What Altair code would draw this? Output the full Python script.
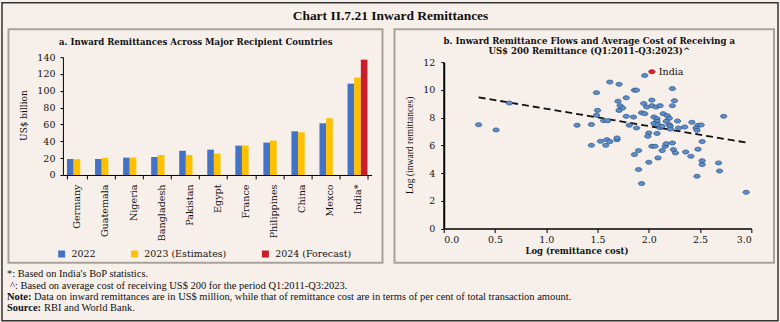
import altair as alt
import pandas as pd

# ---------------- data ----------------
countries = ["Germany", "Guatemala", "Nigeria", "Bangladesh", "Pakistan", "Egypt",
             "France", "Philippines", "China", "Mexco", "India*"]
series_names = ["2022", "2023 (Estimates)", "2024 (Forecast)"]
vals_2022 = [19.0, 19.0, 20.6, 21.4, 28.9, 30.1, 34.9, 38.5, 51.9, 61.4, 108.5]
vals_2023 = [18.8, 20.2, 20.6, 23.8, 23.7, 25.4, 34.9, 40.8, 50.7, 67.4, 115.8]
vals_2024 = {"India*": 137.0}
series_colors = ["#4472C4", "#FFC000", "#C81E2A"]

cost = [0.34, 0.51, 0.64, 1.30, 1.44, 1.49, 1.50, 1.49, 1.44, 1.53, 1.59, 1.58, 1.62,
        1.69, 1.69, 1.56, 1.60, 1.62, 1.71, 1.70, 1.72, 1.745, 1.71, 1.78, 1.78, 1.85,
        1.86, 1.88, 1.81, 1.88, 1.93, 1.96, 1.95, 1.96, 1.98, 2.03, 2.03, 2.07, 2.11,
        2.05, 2.08, 2.14, 2.18, 2.20, 2.08, 2.17, 2.23, 2.25, 2.23, 2.28, 2.42, 2.73,
        2.05, 2.09, 2.11, 2.13, 2.20, 2.21, 2.29, 2.35, 2.48, 2.51, 2.46, 2.47, 2.00,
        1.99, 2.08, 2.52, 1.86, 1.90, 1.90, 1.93, 2.00, 2.03, 2.06, 2.09, 2.13, 2.16,
        2.17, 2.23, 2.24, 2.26, 2.36, 2.41, 2.48, 2.52, 2.52, 2.47, 2.68, 2.69, 2.95,
        2.21]
flows = [7.49, 7.11, 9.05, 7.45, 7.50, 9.80, 8.52, 8.17, 6.00, 6.29, 6.41, 6.00, 6.27,
         6.41, 6.53, 7.78, 7.78, 10.56, 10.40, 9.18, 8.86, 8.69, 8.52, 9.43, 8.09, 8.04,
         9.98, 9.98, 7.45, 7.25, 8.35, 8.28, 9.02, 11.04, 8.76, 9.26, 8.86, 8.76, 8.86,
         8.04, 7.92, 8.28, 8.14, 7.95, 7.73, 7.73, 10.09, 9.22, 8.86, 7.75, 7.66, 8.09,
         7.58, 7.49, 7.27, 7.37, 7.49, 7.37, 7.25, 7.32, 7.44, 7.47, 7.25, 7.08, 6.89,
         6.65, 6.86, 6.27, 5.33, 5.62, 4.25, 3.24, 4.78, 5.93, 5.93, 5.09, 5.62, 5.93,
         6.12, 6.17, 5.69, 5.45, 5.52, 5.21, 5.72, 4.89, 4.61, 3.77, 4.73, 4.15, 2.61,
         7.17]
india_cost = [2.03]
india_flow = [11.31]
trend_x = [0.34, 2.95]
trend_y = [9.46, 6.20]

# ---------------- tables ----------------
rows = []
for c, a, b in zip(countries, vals_2022, vals_2023):
    rows.append({"country": c, "series": series_names[0], "value": a})
    rows.append({"country": c, "series": series_names[1], "value": b})
for c, v in vals_2024.items():
    rows.append({"country": c, "series": series_names[2], "value": v})
bar_df = pd.DataFrame(rows)
sc_df = pd.DataFrame({"x": cost, "y": flows})
india_df = pd.DataFrame({"x": india_cost, "y": india_flow, "t": ["India"]})
trend_df = pd.DataFrame({"x": trend_x, "y": trend_y})

SERIF = "DejaVu Serif"
TIMES = "Liberation Serif"
INK = "#111111"
BORDER = "#A8A29C"
FN = 10.5  # footnote size


def txt(s, x, y, size, bold=False, font=SERIF, align="center", angle=0, color=INK):
    kw = dict(fontSize=size, font=font, align=align, baseline="middle", color=color)
    if bold:
        kw["fontWeight"] = "bold"
    if angle:
        kw["angle"] = angle
    return alt.Chart(pd.DataFrame({"t": [s]})).mark_text(**kw).encode(
        x=alt.value(x), y=alt.value(y), text="t:N")


def frame(x1, x2, y1, y2, color, w):
    return alt.Chart(pd.DataFrame({"a": [0]})).mark_rect(
        fill="#ffffff", fillOpacity=0, stroke=color, strokeWidth=w).encode(
        x=alt.value(x1), x2=alt.value(x2), y=alt.value(y1), y2=alt.value(y2))


# ---------------- left panel ----------------
LW, LH = 309, 118
bars = alt.Chart(bar_df).mark_bar().encode(
    x=alt.X("country:N", sort=countries, title=None,
            scale=alt.Scale(paddingInner=0.29, paddingOuter=0.145),
            axis=alt.Axis(labelAngle=-90, tickBand="extent", tickSize=4, labelPadding=5,
                          labelFontSize=9.6, grid=False, domainColor="#000", tickColor="#000")),
    xOffset=alt.XOffset("series:N", sort=series_names,
                        scale=alt.Scale(domain=series_names, paddingInner=0, paddingOuter=0)),
    y=alt.Y("value:Q", title=None, scale=alt.Scale(domain=[0, 140], nice=False),
            axis=alt.Axis(values=list(range(0, 141, 20)), tickSize=3, labelPadding=5,
                          labelFontSize=9.5, grid=False, domainColor="#000", tickColor="#000")),
    color=alt.Color("series:N", sort=series_names,
                    scale=alt.Scale(domain=series_names, range=series_colors),
                    legend=alt.Legend(orient="none", legendX=-6, legendY=192,
                                      direction="horizontal", title=None, symbolType="square",
                                      symbolSize=49, symbolStrokeWidth=0, labelFontSize=9.5,
                                      labelFont=SERIF, labelColor=INK, labelOffset=5,
                                      columnPadding=34, padding=0)),
)

left = alt.layer(
    frame(-61, 716, -54.5, 264, "#333333", 1.5),
    frame(-54.5, 320, -28, 206, BORDER, 2),
    bars,
    txt("Chart II.7.21 Inward Remittances", 328, -40.7, 13.5, bold=True, font=TIMES),
    txt("a. Inward Remittances Across Major Recipient Countries", 133, -15, 8.6, bold=True),
    txt("US$ billion", -39.3, 58.5, 9, angle=270),
    txt("*: Based on India's BoP statistics.", -56, 217.5, FN, font=TIMES, align="left"),
    txt("^: Based on average cost of receiving US$ 200 for the period Q1:2011-Q3:2023.",
        -53, 228.7, FN, font=TIMES, align="left"),
    txt("Note:", -56, 239.9, FN, bold=True, font=TIMES, align="left"),
    txt("Data on inward remittances are in US$ million, while that of remittance cost are "
        "in terms of per cent of total transaction amount.", -29, 239.9, FN, font=TIMES,
        align="left"),
    txt("Source:", -56, 251.1, FN, bold=True, font=TIMES, align="left"),
    txt("RBI and World Bank.", -19, 251.1, FN, font=TIMES, align="left"),
).properties(width=LW, height=LH)

# ---------------- right panel ----------------
RW, RH = 308, 171.6
xs = alt.Scale(domain=[0, 3], nice=False)
ys = alt.Scale(domain=[0, 12], nice=False, range=[RH, 5])
xax = alt.Axis(values=[0, 0.5, 1, 1.5, 2, 2.5, 3], format=".1f", tickSize=4, labelPadding=2,
               labelFontSize=9.5, grid=False, domainColor="#000", tickColor="#000",
               domainWidth=1.5)
yax = alt.Axis(values=[0, 2, 4, 6, 8, 10, 12], tickSize=3, labelPadding=6, labelFontSize=9.5,
               grid=False, domainColor="#000", tickColor="#000", domainWidth=2)
X = alt.X("x:Q", scale=xs, axis=xax, title=None)
Y = alt.Y("y:Q", scale=ys, axis=yax, title=None)

ELL = "M-1,0A1,0.62,0,1,1,1,0A1,0.62,0,1,1,-1,0Z"
trend = alt.Chart(trend_df).mark_line(color="#111111", strokeWidth=1.8,
                                      strokeDash=[7, 4]).encode(x=X, y=Y)
pts = alt.Chart(sc_df).mark_point(shape=ELL, size=42, filled=True, fill="#5B8FCB",
                                  stroke="#274A7A", strokeWidth=0.7, opacity=1).encode(x=X, y=Y)
india = alt.Chart(india_df).mark_point(shape=ELL, size=42, filled=True, fill="#E3202A",
                                       stroke="#8A1015", strokeWidth=0.7, opacity=1).encode(x=X, y=Y)
india_lbl = alt.Chart(india_df).mark_text(align="left", baseline="middle", dx=7, fontSize=9.5,
                                          font=SERIF, color=INK).encode(x=X, y=Y, text="t:N")

right = alt.layer(
    frame(-49.3, 330.7, -28, 206, BORDER, 2),
    trend, pts, india, india_lbl,
    txt("b. Inward Remittance Flows and Average Cost of Receiving a", 145.7, -15.7, 8.6, bold=True),
    txt("US$ 200 Remittance (Q1:2011-Q3:2023)^", 145.7, -5.7, 8.6, bold=True),
    txt("Log (inward remittances)", -33.3, 88.3, 9.6, font=TIMES, angle=270),
    txt("Log (remittance cost)", 133.4, 194.5, 8.5, bold=True),
).properties(width=RW, height=RH)

chart = alt.hconcat(left, right, spacing=72.3, bounds="flush").properties(
    padding={"left": 1, "top": 1, "right": 1, "bottom": 1}
).configure(background="#F7F0EA", font=SERIF).configure_view(strokeWidth=0).configure_axis(
    labelFont=SERIF, labelColor=INK)

chart.save("out.html", embed_options={"renderer": "svg", "actions": False})
